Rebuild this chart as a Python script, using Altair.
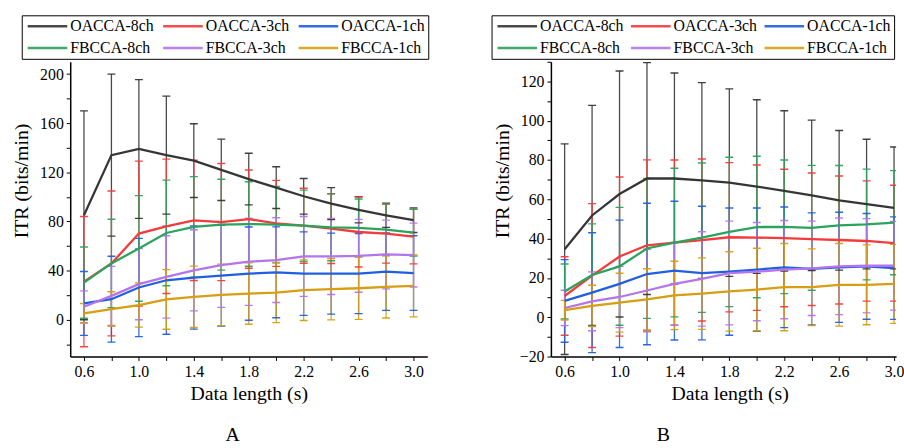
import altair as alt
import pandas as pd

x_vals = [0.6, 0.8, 1.0, 1.2, 1.4, 1.6, 1.8, 2.0, 2.2, 2.4, 2.6, 2.8, 3.0]
series = ["OACCA-8ch", "OACCA-3ch", "OACCA-1ch", "FBCCA-8ch", "FBCCA-3ch", "FBCCA-1ch"]
colors = ["#363636", "#f43b3b", "#1f5fe0", "#2aa35c", "#b474ec", "#d69e10"]

# ---- Panel A (means and SDs) ----
a_oacca8 = [85, 134, 139, 134, 129.5, 122, 114.5, 107.5, 100.5, 94.5, 89.5, 85, 81]
a_oacca8_sd = [85, 66, 56.5, 48, 30, 25, 21, 17, 14.5, 13, 10.7, 9.8, 10]
a_oacca3 = [31, 45.8, 70.1, 76, 80.9, 79.5, 81.9, 78.4, 76.5, 74.1, 71.4, 70.1, 67.7]
a_oacca3_sd = [53, 59, 59, 54.7, 49, 47.7, 40, 35, 30.5, 28.4, 28.5, 24, 22.3]
a_oacca1 = [13.2, 16.7, 26.2, 32.1, 34.3, 35.9, 37.5, 38.6, 37.5, 37.5, 37.5, 39.1, 38]
a_oacca1_sd = [26, 35, 40, 44, 42, 41, 38, 37, 34, 33, 32.6, 31.5, 30.4]
a_fbcca8 = [30.2, 45.8, 58, 70.6, 75.5, 77.4, 77.9, 77.4, 76.5, 75.2, 74.7, 73.3, 70.9]
a_fbcca8_sd = [29, 36, 43, 43, 41, 37, 34.4, 31, 29, 27.2, 23.6, 21, 19]
a_fbcca3 = [10.5, 19.4, 28.9, 34.8, 40.2, 44.5, 47.2, 48.5, 51.5, 51.5, 52, 53.1, 52.6]
a_fbcca3_sd = [13, 24, 29, 33.5, 33, 34.5, 35.5, 34.5, 32.5, 31, 29.7, 28, 26]
a_fbcca1 = [5.2, 8.7, 11.9, 16.5, 18.6, 20.2, 21.3, 22.1, 24, 24.8, 25.6, 26.7, 27.5]
a_fbcca1_sd = [8, 14, 18, 24.3, 25, 25, 25, 24.5, 24.7, 25, 25.3, 25.3, 25.2]

# ---- Panel B (means and SDs) ----
b_oacca8 = [34.6, 51.8, 62.7, 70.6, 70.6, 69.6, 68.5, 66.5, 64.3, 62, 59.5, 57.6, 55.6]
b_oacca8_sd = [53.6, 56, 62.6, 59, 53.7, 49.8, 47.7, 44.2, 40.8, 38.3, 35.5, 33, 31]
b_oacca3 = [10.8, 21.2, 30.9, 36.6, 38, 39.3, 40.7, 40.5, 40.3, 39.7, 39.3, 38.8, 37.7]
b_oacca3_sd = [20, 36.6, 40.5, 43.5, 42, 41.2, 38, 37, 35, 33.7, 32.6, 30.6, 29.5]
b_oacca1 = [8.3, 12.5, 17, 22, 23.7, 22.5, 23.2, 24.2, 25.4, 24.6, 25.4, 25.9, 25]
b_oacca1_sd = [21, 30.5, 32.4, 36, 35.3, 34, 32.4, 31.4, 30.7, 28.5, 28, 26.9, 26.1]
b_fbcca8 = [13.1, 21.5, 25.9, 35, 38, 40.5, 43.4, 45.9, 46, 45.5, 46.7, 47.2, 48.1]
b_fbcca8_sd = [14, 26, 30, 35.6, 37.8, 38, 38, 36, 34, 31.8, 30.5, 28.2, 26.5]
b_fbcca3 = [4.7, 8.1, 10.3, 13.6, 17, 19.5, 22.5, 23.2, 24.2, 24.9, 25.9, 26.2, 26.2]
b_fbcca3_sd = [9, 15, 15.6, 21, 21, 24, 26.4, 25, 25, 24, 24.6, 24, 22.6]
b_fbcca1 = [3.6, 5.8, 7.4, 9.1, 11.1, 12, 13.1, 14.1, 15.3, 15.3, 16.5, 16.5, 17]
b_fbcca1_sd = [5, 10.5, 15, 15.6, 17.4, 18.2, 20.2, 21, 22.2, 19.5, 21, 20.3, 20.1]

a_means = [a_oacca8, a_oacca3, a_oacca1, a_fbcca8, a_fbcca3, a_fbcca1]
a_sds = [a_oacca8_sd, a_oacca3_sd, a_oacca1_sd, a_fbcca8_sd, a_fbcca3_sd, a_fbcca1_sd]
b_means = [b_oacca8, b_oacca3, b_oacca1, b_fbcca8, b_fbcca3, b_fbcca1]
b_sds = [b_oacca8_sd, b_oacca3_sd, b_oacca1_sd, b_fbcca8_sd, b_fbcca3_sd, b_fbcca1_sd]

a_yticks = list(range(-20, 201, 20))
b_yticks = list(range(-20, 131, 10))

FONT = "Liberation Serif"


def build(means, sds):
    rows = []
    for s, m, sd in zip(series, means, sds):
        for x, mv, sv in zip(x_vals, m, sd):
            rows.append({"series": s, "x": x, "mean": mv, "lo": mv - sv, "hi": mv + sv})
    return pd.DataFrame(rows)


AXIS_STYLE = dict(
    grid=False,
    domainColor="black",
    domainWidth=1.5,
    tickColor="black",
    tickSize=4,
    tickWidth=1,
    labelFont=FONT,
    labelFontSize=16,
    labelColor="black",
    labelPadding=3,
    titleFont=FONT,
    titleFontSize=20,
    titleFontWeight="normal",
    titleColor="black",
)


def panel(df, xdom, ydom, yvals, ystep, width, height, letter, letter_dx,
          xtitle_x, legend_x, col_pad):
    xenc = alt.X(
        "x:Q",
        scale=alt.Scale(domain=xdom, nice=False, zero=False),
        axis=alt.Axis(
            values=x_vals,
            labelExpr="(round(datum.value*10)%4==2) ? format(datum.value,'.1f') : ''",
            title="Data length (s)",
            titleX=xtitle_x,
            titleY=37,
            titleBaseline="middle",
            **AXIS_STYLE,
        ),
    )
    yaxis = alt.Axis(
        values=yvals,
        labelExpr=f"(datum.value % {ystep} == 0) ? format(datum.value,'d') : ''",
        title="ITR (bits/min)",
        titleX=-49,
        titleY=120,
        titleBaseline="middle",
        **AXIS_STYLE,
    )
    yscale = alt.Scale(domain=ydom, nice=False, zero=False)
    cscale = alt.Scale(domain=series, range=colors)
    legend = alt.Legend(
        title=None,
        orient="none",
        legendX=legend_x,
        legendY=-47,
        columns=3,
        direction="horizontal",
        symbolType="M-4,0H4",
        symbolSize=100,
        symbolOffset=15,
        symbolStrokeWidth=2.5,
        labelFont=FONT,
        labelFontSize=16,
        labelColor="black",
        labelOffset=15,
        columnPadding=col_pad,
        rowPadding=6,
        padding=3,
        strokeColor="black",
    )
    color = alt.Color("series:N", scale=cscale, legend=legend)
    base = alt.Chart(df).encode(x=xenc, color=color)

    rules = base.mark_rule(strokeWidth=1.3, opacity=0.9, clip=True).encode(
        y=alt.Y("lo:Q", scale=yscale, axis=yaxis),
        y2="hi:Q",
    )
    caps_lo = base.mark_tick(orient="horizontal", size=8, thickness=1.4, opacity=0.95, clip=True).encode(
        y=alt.Y("lo:Q", scale=yscale, axis=yaxis),
    )
    caps_hi = base.mark_tick(orient="horizontal", size=8, thickness=1.4, opacity=0.95, clip=True).encode(
        y=alt.Y("hi:Q", scale=yscale, axis=yaxis),
    )
    lines = base.mark_line(strokeWidth=2.3, clip=True).encode(
        y=alt.Y("mean:Q", scale=yscale, axis=yaxis),
    )
    return alt.layer(rules, caps_lo, caps_hi, lines).properties(
        width=width,
        height=height,
        title=alt.TitleParams(
            text=letter,
            orient="bottom",
            anchor="start",
            frame="group",
            dx=letter_dx,
            offset=22,
            font=FONT,
            fontSize=20,
            fontWeight="normal",
            color="black",
        ),
    )


df_a = build(a_means, a_sds)
df_b = build(b_means, b_sds)

chart_a = panel(df_a, [0.5, 3.1], [-30, 210], a_yticks, 40, 361, 298, "A", 157, 180.5, -49, 4)
chart_b = panel(df_b, [0.5, 3.015], [-20, 130], b_yticks, 20, 349, 298, "B", 107, 180.7, -60, 2)

chart = (
    alt.hconcat(chart_a, chart_b, spacing=62)
    .resolve_scale(color="independent")
    .properties(padding={"left": 12, "top": 12, "right": 0, "bottom": 0})
    .configure_view(stroke=None)
)

chart.save("out.html", embed_options={"renderer": "svg", "actions": False})
